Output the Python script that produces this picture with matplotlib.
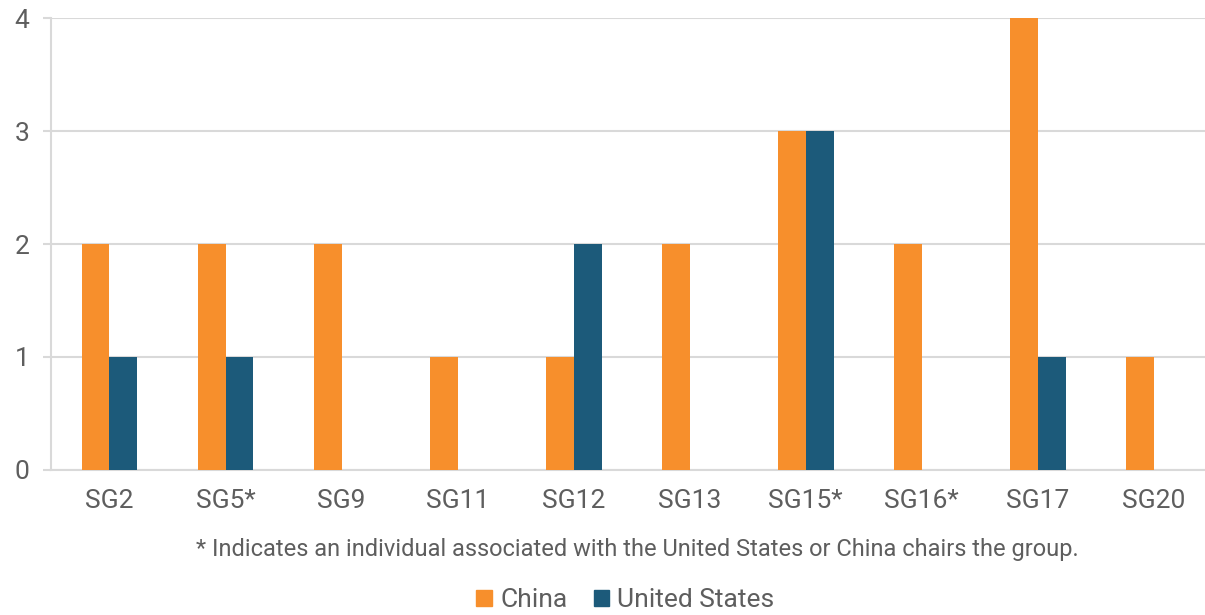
import numpy as np
import matplotlib
matplotlib.use("Agg")
import matplotlib.pyplot as plt
from matplotlib.patches import Patch

plt.rcParams['font.family'] = ['Roboto', 'DejaVu Sans']

groups = ['SG2', 'SG5*', 'SG9', 'SG11', 'SG12', 'SG13', 'SG15*', 'SG16*', 'SG17', 'SG20']
china = [2, 2, 2, 1, 1, 2, 3, 2, 4, 1]
us = [1, 1, 0, 0, 2, 0, 3, 0, 1, 0]

orange = '#F78F2C'
blue = '#1C5A7A'
grey_txt = '#5E5E5E'
grid_c = '#D9D9D9'

fig = plt.figure(figsize=(12.05, 6.15), dpi=100)
ax = fig.add_axes([0.0427, 0.2358, 0.9573, 0.7349])

x = np.arange(len(groups))
w = 0.24
ax.bar(x - w / 2, china, w, color=orange, zorder=3)
ax.bar(x + w / 2, us, w, color=blue, zorder=3)

ax.set_xlim(-0.5, 9.44)
ax.set_ylim(0, 4)
ax.set_yticks([0, 1, 2, 3, 4])
ax.yaxis.grid(True, color=grid_c, linewidth=1.5, zorder=0)
ax.set_xticks(x)
ax.set_xticklabels(groups)

for s in ['top', 'right']:
    ax.spines[s].set_visible(False)
ax.spines['left'].set_color(grid_c)
ax.spines['bottom'].set_color(grid_c)
ax.spines['left'].set_linewidth(1.5)
ax.spines['bottom'].set_linewidth(1.5)

ax.tick_params(axis='y', length=6, width=1.5, color=grid_c, pad=10,
               labelsize=19, labelcolor=grey_txt)
ax.tick_params(axis='x', length=0, pad=14, labelsize=19, labelcolor=grey_txt)

fig.text(0.529, 0.107, '* Indicates an individual associated with the United States or China chairs the group.',
         ha='center', va='center', fontsize=17, color=grey_txt)

handles = [Patch(color=orange, label='China'), Patch(color=blue, label='United States')]
fig.legend(handles=handles, loc='center', bbox_to_anchor=(0.519, 0.024), ncol=2, frameon=False,
           fontsize=19, labelcolor=grey_txt, handlelength=0.6, handleheight=0.6,
           handletextpad=0.3, columnspacing=1.0)

fig.savefig('out.png', dpi=100)
